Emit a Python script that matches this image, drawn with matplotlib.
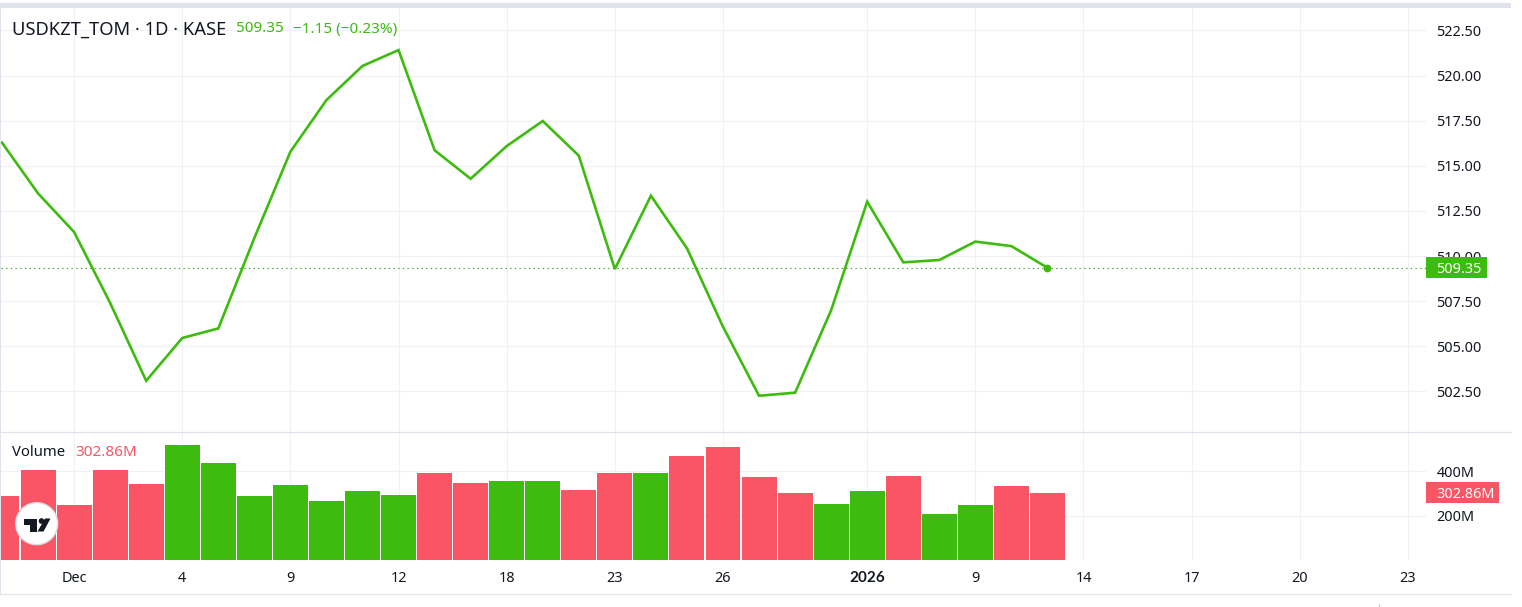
import matplotlib
matplotlib.use("Agg")
from matplotlib import pyplot as plt
from matplotlib.patches import Circle, Polygon, Rectangle
from matplotlib.transforms import blended_transform_factory

plt.rcParams['font.family'] = ['Noto Sans', 'DejaVu Sans']

# daily closes
closes = [516.28, 513.47, 511.33, 507.4, 503.09, 505.46, 505.99, 511.0, 515.78, 518.64,
          520.53, 521.41, 515.86, 514.28, 516.09, 517.48, 515.56, 509.28, 513.34, 510.43,
          506.08, 502.26, 502.43, 507.0, 513.01, 509.65, 509.78, 510.8, 510.55, 509.35]
# volume in millions
volumes = [289, 406, 248, 406, 343, 519, 438, 289, 339, 266,
           311, 293, 393, 348, 357, 357, 316, 393, 393, 469,
           510, 375, 302, 253, 311, 379, 208, 248, 334, 302.86]
vol_up = [0, 0, 0, 0, 0, 1, 1, 1, 1, 1,
          1, 1, 0, 0, 1, 1, 0, 0, 1, 0,
          0, 0, 0, 1, 1, 0, 1, 1, 0, 0]

tick_pos = [2, 5, 8, 11, 14, 17, 20, 24, 27, 30, 33, 36, 39]
tick_labels = ['Dec', '4', '9', '12', '18', '23', '26', '2026', '9', '14', '17', '20', '23']
price_ticks = [502.5, 505, 507.5, 510, 512.5, 515, 517.5, 520, 522.5]
vol_ticks = [200, 400]
vol_tick_labels = ['200M', '400M']

GREEN = '#3dbb0e'
RED = '#f95564'
GRID = '#f0f1f4'
FRAME = '#e0e3eb'
TEXT = '#131722'
W, H = 1522, 607


def px_rect(left, top, right, bottom):
    return [left / W, 1 - bottom / H, (right - left) / W, (bottom - top) / H]


fig = plt.figure(figsize=(W / 100, H / 100), dpi=100, facecolor='white')
ax = fig.add_axes(px_rect(1, 8, 1426, 431.5))
ax_vol = fig.add_axes(px_rect(1, 431.5, 1426, 560))

xlim = ((1 - 2.0) / 36.05, (1426 - 2.0) / 36.05)
days = list(range(len(closes)))

for a in (ax, ax_vol):
    a.set_xlim(xlim)
    a.set_xticks(tick_pos)
    a.grid(True, color=GRID, linewidth=0.8)
    a.set_axisbelow(True)
    a.yaxis.tick_right()
    for s in a.spines.values():
        s.set_visible(False)

# price pane
ax.set_ylim(500.28, 523.74)
ax.plot(days, closes, color=GREEN, linewidth=1.9, solid_joinstyle='miter', solid_capstyle='projecting')
ax.plot(days[-1], closes[-1], 'o', color=GREEN, markersize=4.6, clip_on=False)
ax.axhline(closes[-1], color='#3f9e1c', linewidth=0.8, linestyle=(0, (1.2, 3)))
ax.set_yticks(price_ticks)
ax.set_yticklabels(['%.2f' % v for v in price_ticks], ha='left')
ax.tick_params(axis='y', length=0, pad=7.6, labelsize=10.4, labelcolor=TEXT)
ax.tick_params(axis='x', length=0, labelbottom=False)

# volume pane
ax_vol.set_ylim(0, 579)
ax_vol.bar(days, volumes, width=0.97, color=[GREEN if u else RED for u in vol_up], linewidth=0)
ax_vol.set_yticks(vol_ticks)
ax_vol.set_yticklabels(vol_tick_labels, ha='left')
ax_vol.tick_params(axis='y', length=0, pad=7.6, labelsize=10.4, labelcolor=TEXT)
ax_vol.set_xticklabels(tick_labels)
ax_vol.tick_params(axis='x', length=0, pad=8, labelsize=10.4, labelcolor=TEXT)
for lab in ax_vol.get_xticklabels():
    if lab.get_text() == '2026':
        lab.set_family(['Lato', 'DejaVu Sans'])
        lab.set_fontweight('bold')
        lab.set_fontsize(11)

# last value badges on the scale
tr = blended_transform_factory(ax.transAxes, ax.transData)
ax.add_patch(Rectangle((1, closes[-1] - 10.4 / 18.05), 61 / 1425, 20.8 / 18.05, transform=tr,
                       color=GREEN, clip_on=False, zorder=5, linewidth=0))
ax.text(1 + 10 / 1425, closes[-1], '%.2f' % closes[-1], transform=tr, color='white',
        fontsize=10.4, va='center_baseline', ha='left', zorder=6)
tr = blended_transform_factory(ax_vol.transAxes, ax_vol.transData)
ax_vol.add_patch(Rectangle((1, volumes[-1] - 10.5 / 0.2218), 73 / 1425, 21 / 0.2218, transform=tr,
                           color=RED, clip_on=False, zorder=5, linewidth=0))
ax_vol.text(1 + 10 / 1425, volumes[-1], '%.2fM' % volumes[-1], transform=tr, color='white',
            fontsize=10.4, va='center_baseline', ha='left', zorder=6)

# frame, legend and logo in pixel space
over = fig.add_axes([0, 0, 1, 1], zorder=10)
over.set_xlim(0, W)
over.set_ylim(H, 0)
over.axis('off')
over.add_patch(Rectangle((0, 3), 1511, 5, color=FRAME, linewidth=0))
over.add_patch(Rectangle((0, 3), 1, 591, color=FRAME, linewidth=0))
over.plot([0, 1511], [431.5, 431.5], color=FRAME, linewidth=0.9)
over.plot([0, 1511], [594, 594], color=FRAME, linewidth=0.9)
over.plot([1379, 1379], [604, 607], color='#c8cad0', linewidth=0.8)

over.text(12, 29.5, 'USDKZT_TOM · 1D · KASE', color=TEXT, fontsize=13.2, va='center')
over.text(236, 29, '%.2f' % closes[-1], color=GREEN, fontsize=11, va='center')
over.text(293, 29, '−1.15 (−0.23%)', color=GREEN, fontsize=11, va='center')
over.text(12, 452, 'Volume', color=TEXT, fontsize=10.7, va='center')
over.text(75, 452, '%.2fM' % volumes[-1], color=RED, fontsize=11, va='center')

over.add_patch(Circle((36.7, 523.7), 21, facecolor='white', edgecolor='#dcdde2', linewidth=1))
over.add_patch(Polygon([(24, 518.5), (36.7, 518.5), (36.7, 531.5), (29.5, 531.5), (29.5, 525), (24, 525)],
                       color=TEXT, linewidth=0))
over.add_patch(Circle((41.5, 521), 2.8, color=TEXT, linewidth=0))
over.add_patch(Polygon([(45, 518.5), (50.5, 518.5), (43.5, 531.5), (37.5, 531.5)], color=TEXT, linewidth=0))

fig.savefig('out.png', dpi=100)
